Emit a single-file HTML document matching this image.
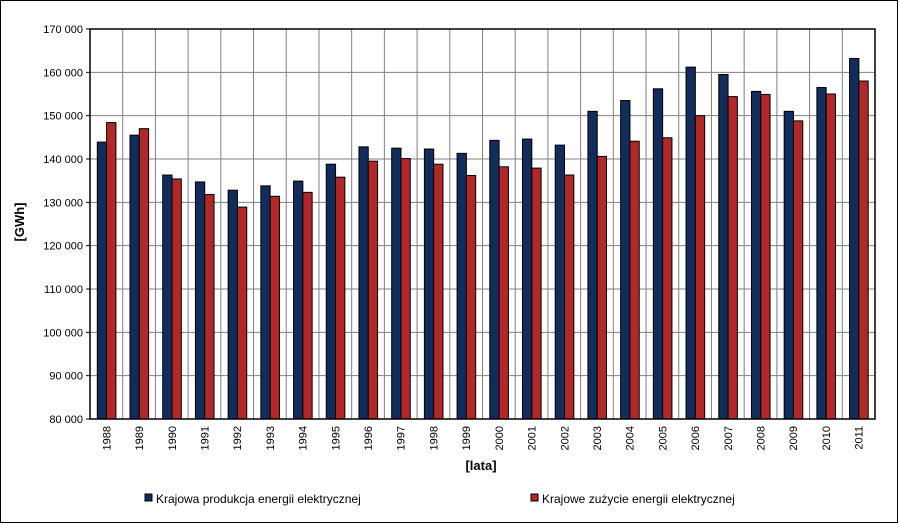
<!DOCTYPE html>
<html><head><meta charset="utf-8"><style>
html,body{margin:0;padding:0;background:#fff;}
svg{display:block;font-family:"Liberation Sans",Arial,sans-serif;}
</style></head><body>
<svg id="chart" width="899" height="524">
<rect x="0.5" y="0.5" width="897" height="522" fill="#fff" stroke="#000"/>
<g id="grid"></g><g id="bars"></g><g id="axes"></g>
<text x="481" y="470" text-anchor="middle" font-size="13" font-weight="bold">[lata]</text>
<text transform="translate(24,222) rotate(-90)" text-anchor="middle" font-size="13" font-weight="bold">[GWh]</text>
<g>
<g><rect x="145" y="494" width="7" height="7" fill="#122c5c" stroke="#000"/><text x="156" y="503" font-size="12">Krajowa produkcja energii elektrycznej</text></g>
<g><rect x="531" y="494" width="7" height="7" fill="#b22828" stroke="#000"/><text x="542" y="503" font-size="12">Krajowe zużycie energii elektrycznej</text></g>
</g>
</svg>
<script>
const categories=["1988","1989","1990","1991","1992","1993","1994","1995","1996","1997","1998","1999","2000","2001","2002","2003","2004","2005","2006","2007","2008","2009","2010","2011"];
const production=[143900,145500,136300,134700,132800,133800,134900,138800,142800,142500,142300,141300,144300,144600,143200,151000,153500,156200,161200,159500,155600,151000,156500,163200];
const consumption=[148400,147000,135400,131800,128900,131400,132300,135800,139500,140100,138800,136200,138200,137900,136300,140600,144100,144900,150000,154400,154900,148800,155000,158000];
const yTicks=[80000,90000,100000,110000,120000,130000,140000,150000,160000,170000];
const NS="http://www.w3.org/2000/svg";
const L=90,R=875,T=29,B=419,yMin=80000,yMax=170000;
const y=v=>B-(v-yMin)/(yMax-yMin)*(B-T);
const cw=(R-L)/categories.length;
const x=i=>L+i*cw;
function mk(tag,attrs,parent){const e=document.createElementNS(NS,tag);for(const k in attrs)e.setAttribute(k,attrs[k]);parent.appendChild(e);return e;}
const grid=document.getElementById('grid'),bars=document.getElementById('bars'),axes=document.getElementById('axes');
yTicks.forEach(t=>{
  const l=mk('line',{x1:L,x2:R,y1:y(t),y2:y(t),stroke:'#808080','stroke-width':1},grid);
  
  
  const tk=mk('line',{x1:L-4,x2:L,y1:y(t),y2:y(t),stroke:'#000'},axes);
  
  
  const s=String(t/1000)+" 000";
  const tx=mk('text',{x:L-7,y:y(t)+4,'text-anchor':'end','font-size':11},axes);
  tx.textContent=s;
  
  
});
categories.forEach((c,i)=>{
  if(i>0){const g=mk('line',{x1:x(i),x2:x(i),y1:T,y2:B,stroke:'#808080'},grid);
  
  }
  const bw=9.3,off=7.3;
  const b1=mk('rect',{x:x(i)+off,y:y(production[i]),width:bw,height:B-y(production[i]),fill:'#122c5c',stroke:'#000','stroke-width':1},bars);
  
  
  const b2=mk('rect',{x:x(i)+off+bw,y:y(consumption[i]),width:bw,height:B-y(consumption[i]),fill:'#b22828',stroke:'#000','stroke-width':1},bars);
  
  
  const cx=x(i)+cw/2;
  const tx=mk('text',{transform:`translate(${cx+4},${B+7}) rotate(-90)`,'text-anchor':'end','font-size':11},axes);
  tx.textContent=c;
  
  
});
const frame=mk('rect',{x:L,y:T,width:R-L,height:B-T,fill:'none',stroke:'#000','stroke-width':1.5},axes);


</script>
</body></html>
